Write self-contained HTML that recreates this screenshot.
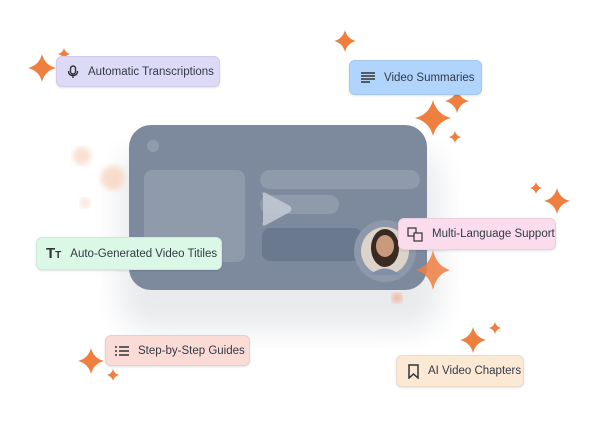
<!DOCTYPE html>
<html><head><style>
body{margin:0;width:600px;height:429px;background:#fff;position:relative;overflow:hidden;font-family:"Liberation Sans",sans-serif}
.l{position:absolute;border-radius:6px;font-size:11.5px;color:#333a45;display:flex;align-items:center;box-sizing:border-box;box-shadow:0 1px 2px rgba(0,0,0,.12);border:1px solid rgba(0,0,0,.06);white-space:nowrap}
.l svg{margin-right:9px;flex:none}
</style></head><body>
<svg width="600" height="429" style="position:absolute;left:0;top:0">
<defs>
<path id="s" d="M0,-1 Q0.2,-0.2 1,0 Q0.2,0.2 0,1 Q-0.2,0.2 -1,0 Q-0.2,-0.2 0,-1Z" fill="#ee7f3f"/>
<filter id="b"><feGaussianBlur stdDeviation="14"/></filter>
<filter id="g"><feGaussianBlur stdDeviation="3"/></filter>
</defs>
<rect x="120" y="150" width="320" height="180" rx="30" fill="#e8eaec" filter="url(#b)"/>
<circle cx="82" cy="156" r="9" fill="#f9e0d2" filter="url(#g)"/>
<circle cx="113" cy="178" r="12" fill="#f8dccb" filter="url(#g)"/>
<circle cx="85" cy="203" r="5" fill="#f9e3d6" filter="url(#g)"/>
<rect x="129" y="125" width="298" height="165" rx="22" fill="#7d8a9e"/>
<circle cx="153" cy="146" r="6" fill="#909bac"/>
<rect x="144" y="170" width="101" height="92" rx="8" fill="#8f9aab"/>
<rect x="260" y="170" width="160" height="19" rx="9.5" fill="#8f9aab"/>
<rect x="260" y="195" width="79" height="19" rx="9.5" fill="#8f9aab"/>
<rect x="262" y="228" width="100" height="33" rx="8" fill="#6b798e"/>
<path d="M263,196 Q261,191 266,193 L290,206 Q293,209 290,212 L266,225 Q261,227 263,222Z" fill="#c3cad5" opacity=".85"/>
<circle cx="385" cy="251" r="31" fill="#8d98aa"/>
<circle cx="385" cy="251" r="24" fill="#dcd3cb"/>
<ellipse cx="385" cy="248" rx="14" ry="19" fill="#3a2a22"/>
<ellipse cx="385" cy="246" rx="9" ry="11" fill="#c99a7e"/>
<path d="M370,275 Q385,262 400,275Z" fill="#7e8fa7"/>
<circle cx="397" cy="298" r="5" fill="#f0b49a" filter="url(#g)"/>
<use href="#s" transform="translate(433,270) scale(17,20)" opacity=".85"/>
<use href="#s" transform="translate(42,68) scale(14)"/>
<use href="#s" transform="translate(64,54) scale(6)"/>
<use href="#s" transform="translate(345,41) scale(11)"/>
<use href="#s" transform="translate(433,118) scale(18)"/>
<use href="#s" transform="translate(457,101) scale(12)"/>
<use href="#s" transform="translate(455,137) scale(6)"/>
<use href="#s" transform="translate(536,188) scale(6)"/>
<use href="#s" transform="translate(557,201) scale(13)"/>
<use href="#s" transform="translate(91,361) scale(13)"/>
<use href="#s" transform="translate(113,375) scale(6)"/>
<use href="#s" transform="translate(473,340) scale(13)"/>
<use href="#s" transform="translate(495,328) scale(6)"/>
</svg>
<div class="l" style="left:56px;top:56px;width:164px;height:31px;background:#dcdaf7;padding-left:10px"><svg width="12" height="14" viewBox="0 0 12 14"><rect x="3.5" y="1" width="5" height="8" rx="2.5" fill="none" stroke="#333" stroke-width="1.4"/><path d="M1.5,6 Q1.5,10.5 6,10.5 Q10.5,10.5 10.5,6 M6,10.5V13" fill="none" stroke="#333" stroke-width="1.4"/></svg>Automatic Transcriptions</div>
<div class="l" style="left:349px;top:60px;width:133px;height:35px;background:#b0d4fb;padding-left:11px"><svg width="14" height="11"><path d="M0,1H14M0,4H14M0,7H14M0,10H9" stroke="#333" stroke-width="1.5"/></svg>Video Summaries</div>
<div class="l" style="left:36px;top:237px;width:186px;height:33px;background:#dbf8e7;padding-left:9px"><span style="font-size:15px;font-weight:bold;margin-right:9px;color:#333">T<span style="font-size:10px">T</span></span>Auto-Generated Video Titiles</div>
<div class="l" style="left:398px;top:218px;width:158px;height:32px;background:#fbdcec;padding-left:8px"><svg width="16" height="15"><rect x="1" y="1" width="8" height="8" fill="none" stroke="#333" stroke-width="1.2"/><rect x="7" y="6" width="8" height="8" fill="#fbdcec" stroke="#333" stroke-width="1.2"/></svg>Multi-Language Support</div>
<div class="l" style="left:105px;top:335px;width:145px;height:31px;background:#fadbd5;padding-left:9px"><svg width="14" height="10"><path d="M0,1H2M4,1H14M0,5H2M4,5H14M0,9H2M4,9H14" stroke="#333" stroke-width="1.6"/></svg>Step-by-Step Guides</div>
<div class="l" style="left:396px;top:355px;width:128px;height:32px;background:#fbe9d6;padding-left:11px"><svg width="11" height="15"><path d="M1,1H10V14L5.5,10L1,14Z" fill="none" stroke="#333" stroke-width="1.5"/></svg>AI Video Chapters</div>
</body></html>
